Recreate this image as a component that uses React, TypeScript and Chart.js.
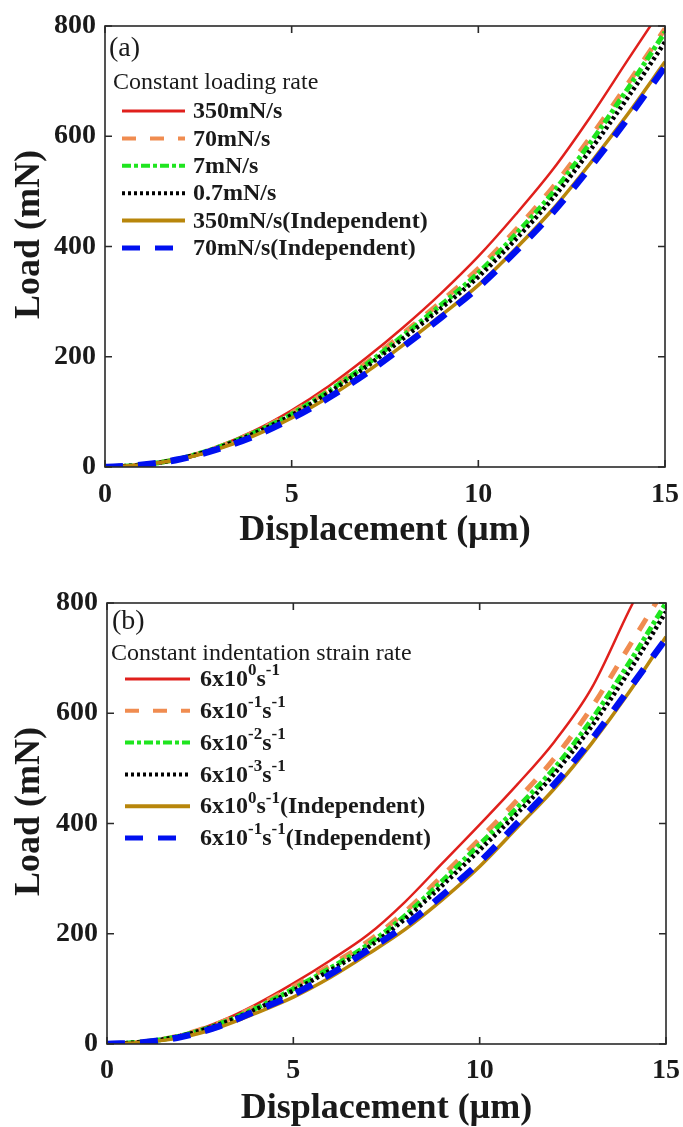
import React, { useEffect, useRef } from 'react';
import { Chart, registerables } from 'chart.js';

Chart.register(...registerables);

const FONT = '"Liberation Serif", "Times New Roman", Times, serif';

// ---------- data ----------
const displacement = [0, 1, 2, 3, 4, 5, 6, 7, 8, 9, 10, 11, 12, 13, 14, 15];

// Panel (a): constant loading rate
const loadA_350 = [0, 4, 16, 37, 66, 103, 147, 198, 254, 315, 382, 458, 540, 635, 738, 840];
const loadA_70 = [0, 4, 15, 35, 63, 98, 140, 189, 243, 300, 360, 430, 508, 598, 695, 795];
const loadA_7 = [0, 4, 15, 35, 62, 96, 138, 186, 239, 294, 352, 422, 498, 588, 686, 789];
const loadA_07 = [0, 4, 15, 34, 61, 94, 135, 182, 234, 288, 345, 413, 488, 575, 670, 771];
const loadA_350i = [0, 4, 14, 32, 57, 89, 127, 172, 222, 275, 330, 396, 468, 551, 640, 735];
const loadA_70i = [0, 4, 14, 32, 56, 88, 126, 170, 219, 271, 326, 391, 462, 544, 632, 726];

// Panel (b): constant indentation strain rate
const loadB_e0 = [0, 4, 17, 40, 72, 110, 152, 198, 258, 328, 398, 470, 548, 645, 785, 920];
const loadB_e1 = [0, 4, 16, 38, 68, 104, 143, 186, 240, 305, 372, 442, 518, 610, 720, 830];
const loadB_e2 = [0, 4, 15, 36, 65, 100, 138, 180, 233, 296, 362, 428, 500, 588, 690, 800];
const loadB_e3 = [0, 4, 15, 35, 63, 97, 134, 175, 227, 288, 352, 418, 490, 576, 675, 784];
const loadB_e0i = [0, 3, 12, 30, 56, 85, 121, 163, 208, 262, 322, 392, 463, 545, 637, 739];
const loadB_e1i = [0, 3, 13, 32, 60, 90, 127, 170, 215, 270, 330, 400, 471, 552, 643, 735];

const labelsA = ['350mN/s', '70mN/s', '7mN/s', '0.7mN/s', '350mN/s(Independent)', '70mN/s(Independent)'];
const labelsB = [
  '6x10^{0}s^{-1}',
  '6x10^{-1}s^{-1}',
  '6x10^{-2}s^{-1}',
  '6x10^{-3}s^{-1}',
  '6x10^{0}s^{-1}(Independent)',
  '6x10^{-1}s^{-1}(Independent)',
];
const legendTitleA = 'Constant loading rate';
const legendTitleB = 'Constant indentation strain rate';
const panelTagA = '(a)';
const panelTagB = '(b)';

const xTickValues = [0, 5, 10, 15];
const yTickValues = [0, 200, 400, 600, 800];
const xTitle = 'Displacement (µm)';
const yTitle = 'Load (mN)';

// ---------- styles ----------
const seriesStyles = [
  { color: '#e0201c', width: 2.5, dash: [] as number[], lw: 3 },
  { color: '#f08c50', width: 5, dash: [14, 14], lw: 4 },
  { color: '#1fe51f', width: 5, dash: [9, 3, 4, 3], lw: 4 },
  { color: '#000000', width: 4.5, dash: [3, 3], lw: 4 },
  { color: '#b8860b', width: 3.5, dash: [], lw: 4 },
  { color: '#0010f0', width: 6.5, dash: [18, 15], lw: 5 },
];

type PanelCfg = {
  series: number[][];
  labels: string[];
  legendTitle: string;
  tag: string;
  height: number;
  padTop: number;
  padRight: number;
  yWidth: number;
  xHeight: number;
  xTickPad: number;
  xTitlePadBottom: number;
  tagY: number;
  titleY: number;
  entryY0: number;
  entryDy: number;
  lineX0: number;
  lineX1: number;
  textX: number;
  tagX: number;
  titleX: number;
};

function drawRich(ctx: CanvasRenderingContext2D, text: string, x: number, y: number) {
  const parts = text.split(/(\^\{[^}]*\})/).filter((p) => p.length > 0);
  let cx = x;
  for (const p of parts) {
    if (p.startsWith('^{')) {
      const t = p.slice(2, -1);
      ctx.font = `bold 17px ${FONT}`;
      ctx.fillText(t, cx, y - 9);
      cx += ctx.measureText(t).width;
    } else {
      ctx.font = `bold 24px ${FONT}`;
      ctx.fillText(p, cx, y);
      cx += ctx.measureText(p).width;
    }
  }
}

function Panel({ cfg }: { cfg: PanelCfg }) {
  const ref = useRef<HTMLCanvasElement | null>(null);
  useEffect(() => {
    if (!ref.current) return;
    const datasets = cfg.series.map((vals, i) => ({
      label: cfg.labels[i],
      data: displacement.map((x, k) => ({ x, y: vals[k] })),
      borderColor: seriesStyles[i].color,
      backgroundColor: seriesStyles[i].color,
      borderWidth: seriesStyles[i].width,
      borderDash: seriesStyles[i].dash,
      borderCapStyle: 'butt' as const,
      pointRadius: 0,
      fill: false,
      cubicInterpolationMode: 'monotone' as const,
      clip: 0,
      order: 10 - i,
    }));

    const framePlugin = {
      id: 'frame',
      afterDatasetsDraw(chart: any) {
        const { ctx, chartArea } = chart;
        const { left, right, top, bottom } = chartArea;
        const xs = chart.scales.x;
        const ys = chart.scales.y;
        ctx.save();
        ctx.strokeStyle = '#2a2a2a';
        ctx.lineWidth = 1.6;
        ctx.setLineDash([]);
        ctx.strokeRect(left, top, right - left, bottom - top);
        const tl = 7;
        ctx.beginPath();
        for (const v of xTickValues) {
          const px = xs.getPixelForValue(v);
          ctx.moveTo(px, bottom);
          ctx.lineTo(px, bottom - tl);
          ctx.moveTo(px, top);
          ctx.lineTo(px, top + tl);
        }
        for (const v of yTickValues) {
          const py = ys.getPixelForValue(v);
          ctx.moveTo(left, py);
          ctx.lineTo(left + tl, py);
          ctx.moveTo(right, py);
          ctx.lineTo(right - tl, py);
        }
        ctx.stroke();

        // y axis title
        ctx.save();
        ctx.fillStyle = '#1a1a1a';
        ctx.font = `bold 36px ${FONT}`;
        ctx.textAlign = 'center';
        ctx.textBaseline = 'middle';
        ctx.translate(30, (top + bottom) / 2 - 12);
        ctx.rotate(-Math.PI / 2);
        ctx.fillText(yTitle, 0, 0);
        ctx.restore();

        // legend
        ctx.fillStyle = '#1a1a1a';
        ctx.textBaseline = 'middle';
        ctx.textAlign = 'left';
        ctx.font = `28px ${FONT}`;
        ctx.fillText(cfg.tag, cfg.tagX, cfg.tagY);
        ctx.font = `24px ${FONT}`;
        ctx.fillText(cfg.legendTitle, cfg.titleX, cfg.titleY);
        cfg.labels.forEach((lab, i) => {
          const y = cfg.entryY0 + i * cfg.entryDy;
          const st = seriesStyles[i];
          ctx.save();
          ctx.strokeStyle = st.color;
          ctx.lineWidth = st.lw;
          ctx.lineCap = 'butt';
          ctx.setLineDash(st.dash);
          ctx.beginPath();
          ctx.moveTo(cfg.lineX0, y);
          ctx.lineTo(cfg.lineX1, y);
          ctx.stroke();
          ctx.restore();
          ctx.fillStyle = '#1a1a1a';
          drawRich(ctx, lab, cfg.textX, y + 1);
        });
        ctx.restore();
      },
    };

    const chart = new Chart(ref.current, {
      type: 'line',
      data: { datasets },
      plugins: [framePlugin],
      options: {
        responsive: false,
        animation: false,
        devicePixelRatio: 1,
        layout: { padding: { left: 0, right: cfg.padRight, top: cfg.padTop, bottom: 0 } },
        plugins: { legend: { display: false }, tooltip: { enabled: false } },
        scales: {
          x: {
            type: 'linear',
            min: 0,
            max: 15,
            afterBuildTicks: (s: any) => {
              s.ticks = xTickValues.map((v) => ({ value: v }));
            },
            afterFit: (s: any) => {
              s.height = cfg.xHeight;
              s.paddingLeft = 0;
              s.paddingRight = 0;
            },
            grid: { display: false, drawTicks: false },
            border: { display: false },
            ticks: {
              padding: cfg.xTickPad,
              color: '#1a1a1a',
              maxRotation: 0,
              font: { family: FONT, size: 28, weight: 'bold', lineHeight: 1 },
            },
            title: {
              display: true,
              text: xTitle,
              color: '#1a1a1a',
              padding: { top: 0, bottom: cfg.xTitlePadBottom },
              font: { family: FONT, size: 36, weight: 'bold', lineHeight: 1 },
            },
          },
          y: {
            type: 'linear',
            min: 0,
            max: 800,
            afterBuildTicks: (s: any) => {
              s.ticks = yTickValues.map((v) => ({ value: v }));
            },
            afterFit: (s: any) => {
              s.width = cfg.yWidth;
              s.paddingTop = 0;
              s.paddingBottom = 0;
            },
            grid: { display: false, drawTicks: false },
            border: { display: false },
            ticks: {
              padding: 9,
              color: '#1a1a1a',
              font: { family: FONT, size: 28, weight: 'bold', lineHeight: 1 },
            },
            title: { display: false },
          },
        },
      } as any,
    });
    return () => chart.destroy();
  }, [cfg]);
  return <canvas ref={ref} width={683} height={cfg.height} style={{ display: 'block', width: 683, height: cfg.height }} />;
}

const panelA: PanelCfg = {
  series: [loadA_350, loadA_70, loadA_7, loadA_07, loadA_350i, loadA_70i],
  labels: labelsA,
  legendTitle: legendTitleA,
  tag: panelTagA,
  height: 565,
  padTop: 26,
  padRight: 18,
  yWidth: 105,
  xHeight: 98,
  xTickPad: 14,
  xTitlePadBottom: 16,
  tagX: 109,
  tagY: 49,
  titleX: 113,
  titleY: 83,
  entryY0: 111,
  entryDy: 27.4,
  lineX0: 122,
  lineX1: 185,
  textX: 193,
};

const panelB: PanelCfg = {
  series: [loadB_e0, loadB_e1, loadB_e2, loadB_e3, loadB_e0i, loadB_e1i],
  labels: labelsB,
  legendTitle: legendTitleB,
  tag: panelTagB,
  height: 562,
  padTop: 38,
  padRight: 17,
  yWidth: 107,
  xHeight: 83,
  xTickPad: 13,
  xTitlePadBottom: 0,
  tagX: 112,
  tagY: 57,
  titleX: 111,
  titleY: 89,
  entryY0: 114,
  entryDy: 31.8,
  lineX0: 125,
  lineX1: 190,
  textX: 200,
};

export default function App() {
  return (
    <div style={{ position: 'absolute', left: 0, top: 0, width: 683, height: 1127, background: '#fff' }}>
      <Panel cfg={panelA} />
      <Panel cfg={panelB} />
    </div>
  );
}
